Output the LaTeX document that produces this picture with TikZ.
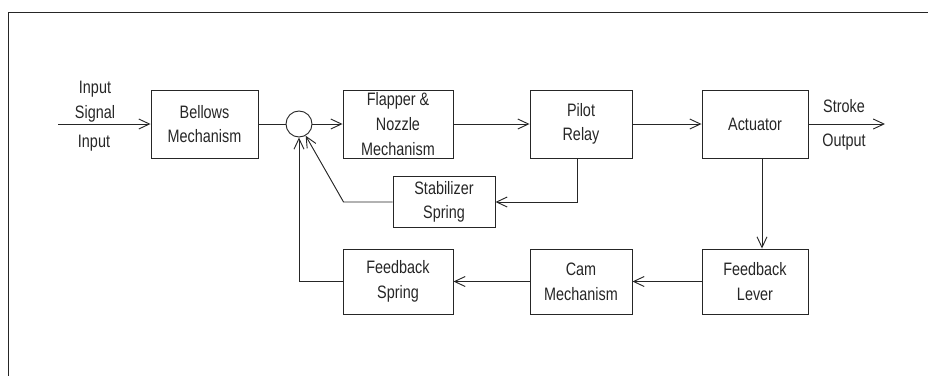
\documentclass[tikz,border=0pt]{standalone}
\usepackage{fontspec}
\setmainfont{Liberation Sans}[FakeStretch=0.8]
\usetikzlibrary{arrows.meta,positioning}

\begin{document}
\begin{tikzpicture}[x=0.75pt,y=-0.75pt,line width=0.7pt,color=black!85,
    every node/.style={font=\fontsize{13.5}{18.5}\selectfont,align=center},
    blk/.style={draw,minimum width=#1,minimum height=51pt,inner sep=0pt},
    arr/.style={-{Straight Barb[length=8pt,width=7.5pt]}}]
  \useasboundingbox (0,0) rectangle (928,376);
  \draw (928,12) -- (8,12) -- (8,376);

  \node[blk=80.25pt] (bel) at (204.5,124) {Bellows\\Mechanism};
  \node[draw,circle,minimum size=19.5pt,inner sep=0pt] (sum) at (299,124) {};
  \node[blk=82.5pt] (flap) at (398,124) {Flapper \&\\Nozzle\\Mechanism};
  \node[blk=76.5pt] (pil) at (581,124) {Pilot\\Relay};
  \node[blk=79.5pt] (act) at (755,124) {Actuator};
  \node[blk=76.5pt,minimum height=38.25pt] (stab) at (444,202) {Stabilizer\\Spring};
  \node[blk=82.5pt,minimum height=48.75pt] (fbs) at (398,281.5) {Feedback\\Spring};
  \node[blk=76.5pt,minimum height=48.75pt] (cam) at (581,281.5) {Cam\\Mechanism};
  \node[blk=79.5pt,minimum height=48.75pt] (lev) at (755,281.5) {Feedback\\Lever};

  \coordinate (in) at (58,124);
  \coordinate (out) at (885,124);
  \node (insig) at (95,102) {Input\\Signal};
  \node (inlab) at (94,143) {Input};
  \node (strk) at (844,106) {Stroke};
  \node (outlab) at (844,142) {Output};

  \draw[arr] (in) -- (bel);
  \draw (bel) -- (sum);
  \draw[arr] (sum) -- (flap);
  \draw[arr] (flap) -- (pil);
  \draw[arr] (pil) -- (act);
  \draw[arr] (act) -- (out);
  \draw[arr] ([xshift=-3pt]pil.south) |- (stab.east);
  \draw[arr] (stab.west) -- ++(-49,0) -- (sum);
  \draw[arr] ([xshift=5.25pt]act.south) -- ([xshift=5.25pt]lev.north);
  \draw[arr] (lev) -- (cam);
  \draw[arr] (cam) -- (fbs);
  \draw[arr] (fbs.west) -| (sum.south);
\end{tikzpicture}
\end{document}
